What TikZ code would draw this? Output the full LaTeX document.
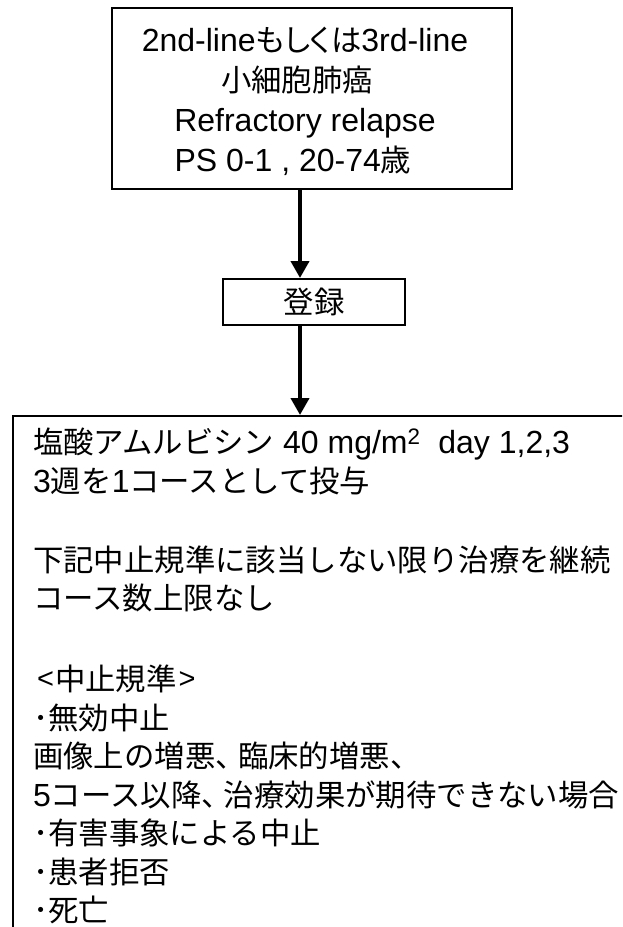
\documentclass[tikz,border=0pt]{standalone}
\usepackage{fontspec}
\setmainfont{Liberation Sans}
\newfontfamily\jpfont[Scale=0.95]{Noto Sans CJK JP}
\newfontfamily\jppfont[Scale=0.95,RawFeature={+palt}]{Noto Sans CJK JP}
\newcommand{\jp}[1]{{\jpfont #1}}
\newcommand{\jpp}[1]{{\jppfont #1}}
\newcommand{\smallbr}[1]{\raisebox{2pt}{\fontsize{29}{29}\selectfont #1}}
\usetikzlibrary{arrows.meta}
\begin{document}
\begin{tikzpicture}[x=1pt,y=-1pt,
  box/.style={draw, line width=2pt, inner sep=0pt},
  flow/.style={line width=4pt, -{Triangle[length=17pt,width=18pt]}},
  toptxt/.style={font=\fontsize{32}{40}\selectfont, inner sep=0pt},
  bodytxt/.style={font=\fontsize{32}{38.5}\selectfont, inner sep=0pt}]
\useasboundingbox (0,0) rectangle (622,927);
\clip (0,0) rectangle (622,927);
% top box
\node[box, minimum width=400pt, minimum height=181pt] (top) at (312,98.5) {};
\node[toptxt, align=center] (toptext) at (305,101)
  {2nd-line\jpp{もしくは}3rd-line\\
   \jp{小細胞肺癌}\kern16pt\\
   Refractory relapse\\
   PS 0-1 , 20-74\jp{歳}\kern24pt};
% registration box
\node[box, minimum width=182pt, minimum height=46pt, font=\fontsize{32}{40}\selectfont] (reg) at (314,302) {\jp{登録}};
% main box (clipped at right and bottom)
\node[box, anchor=north west, minimum width=700pt, minimum height=600pt] (main) at (12,415) {};
\node[bodytxt, anchor=north west, align=left] (body) at (33,428)
  {\jp{塩酸アムルビシン} 40 mg/m\textsuperscript{2}\ \ day 1,2,3\\
   3\jp{週を}1\jp{コースとして投与}\\
   \mbox{}\\[2pt]
   \jp{下記中止規準に該当しない限り治療を継続}\\
   \jp{コース数上限なし}\\
   \mbox{}\\[4pt]
   \hspace*{4pt}\smallbr{<}\kern1pt\jp{中止規準}\kern2pt\smallbr{>}\\
   \jp{･無効中止}\\
   \jp{画像上の増悪、\kern-8pt 臨床的増悪、}\\
   5\jp{コース以降、\kern-8pt 治療効果が期待できない場合}\\
   \jp{･有害事象による中止}\\
   \jp{･患者拒否}\\
   \jp{･死亡}};
% connectors
\coordinate (ax) at (300,0);
\draw[flow] (top.south -| ax) -- (reg.north -| ax);
\draw[flow] (reg.south -| ax) -- (main.north -| ax);
\end{tikzpicture}
\end{document}
